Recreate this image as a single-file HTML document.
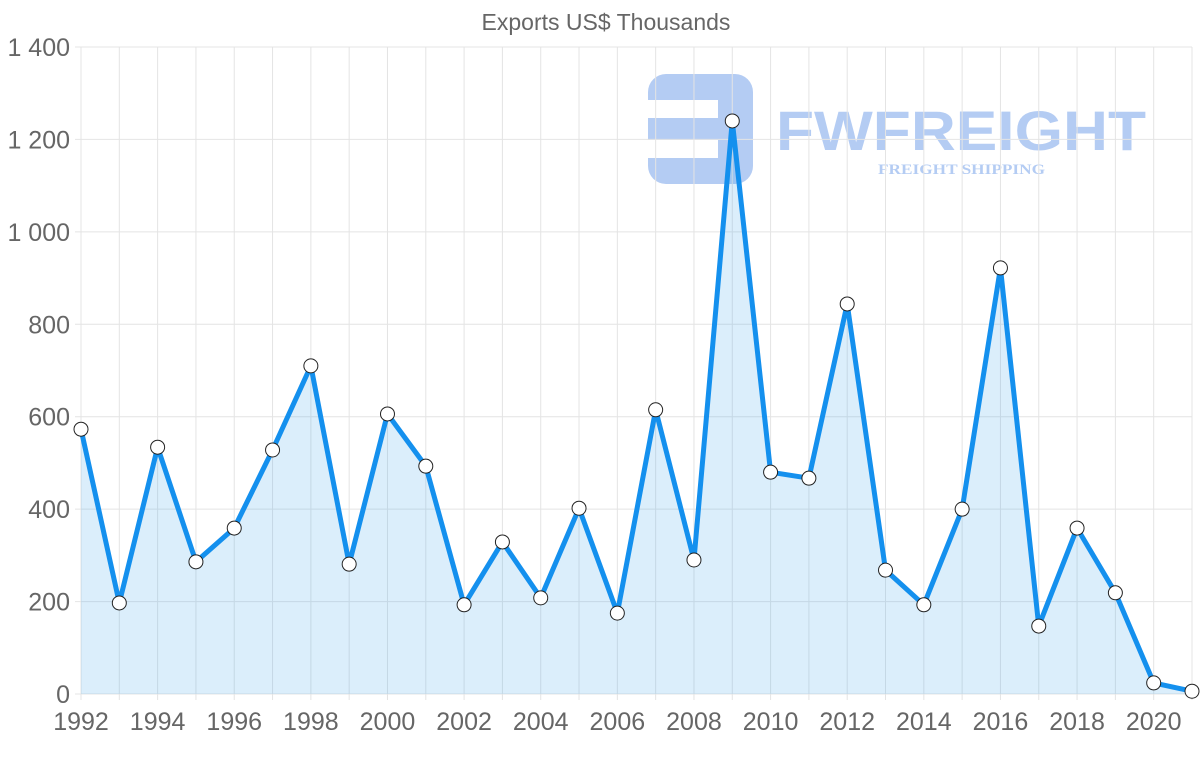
<!DOCTYPE html>
<html><head><meta charset="utf-8"><style>
body{margin:0;background:#fff;font-family:"Liberation Sans",sans-serif}
</style></head><body>
<svg id="chart" width="1200" height="763" xmlns="http://www.w3.org/2000/svg"></svg>
<script>
const years=[1992,1993,1994,1995,1996,1997,1998,1999,2000,2001,2002,2003,2004,2005,2006,2007,2008,2009,2010,2011,2012,2013,2014,2015,2016,2017,2018,2019,2020,2021];
const exportsValues=[573,197,534,286,359,528,710,281,606,493,193,329,208,402,175,615,290,1240,480,467,844,268,193,400,922,147,359,219,24,6];
const yTicks=[0,200,400,600,800,1000,1200,1400];
const yTickLabels=["0","200","400","600","800","1 000","1 200","1 400"];
const xTickYears=[1992,1994,1996,1998,2000,2002,2004,2006,2008,2010,2012,2014,2016,2018,2020];
const NS="http://www.w3.org/2000/svg";
const svg=document.getElementById('chart');
const L=81,R=1192,T=47,B=694;
const x=yr=>L+(yr-1992)/(2021-1992)*(R-L);
const y=v=>B-v/1400*(B-T);
function el(t,a,p){const e=document.createElementNS(NS,t);for(const k in a)e.setAttribute(k,a[k]);(p||svg).appendChild(e);return e;}
// watermark
const wm=el('g',{opacity:0.45});


el('rect',{x:648,y:74,width:105,height:110,rx:18,fill:'#5b8fe6'},wm);
el('rect',{x:648,y:100,width:70,height:18,fill:'#fff'},wm);
el('rect',{x:648,y:140,width:70,height:18,fill:'#fff'},wm);
const wt=el('text',{x:776,y:150,'font-size':56,'font-weight':'bold',fill:'#5b8fe6',textLength:370,lengthAdjust:'spacingAndGlyphs'},wm);wt.textContent='FWFREIGHT';
const ws=el('text',{x:878,y:174,'font-size':15,'font-weight':'bold','font-family':'Liberation Serif,serif',fill:'#5b8fe6',textLength:167,lengthAdjust:'spacingAndGlyphs'},wm);ws.textContent='FREIGHT SHIPPING';
// grid
years.forEach(yr=>{const g=el('line',{x1:x(yr),x2:x(yr),y1:T,y2:B+6,stroke:'#e4e4e4'});});
yTicks.forEach((v,i)=>{const g=el('line',{x1:L-6,x2:R,y1:y(v),y2:y(v),stroke:'#e4e4e4'});
const t=el('text',{x:70,y:y(v)+9,'text-anchor':'end','font-size':25,fill:'#666'});t.textContent=yTickLabels[i];});
xTickYears.forEach(yr=>{const t=el('text',{x:x(yr),y:730,'text-anchor':'middle','font-size':25,fill:'#666'});t.textContent=yr;});
const tt=el('text',{x:606,y:30,'text-anchor':'middle','font-size':23,fill:'#666'});tt.textContent='Exports US$ Thousands';
// area + line
const pts=years.map((yr,i)=>x(yr)+','+y(exportsValues[i]));
const area=el('path',{d:'M'+x(years[0])+','+B+' L'+pts.join(' L')+' L'+x(years[years.length-1])+','+B+' Z',fill:'rgba(54,162,235,0.18)'});

const line=el('polyline',{points:pts.join(' '),fill:'none',stroke:'#1490ee','stroke-width':5,'stroke-linejoin':'round'});

years.forEach((yr,i)=>{const c=el('circle',{cx:x(yr),cy:y(exportsValues[i]),r:7,fill:'#fff',stroke:'#222','stroke-width':1});});
</script>
</body></html>
